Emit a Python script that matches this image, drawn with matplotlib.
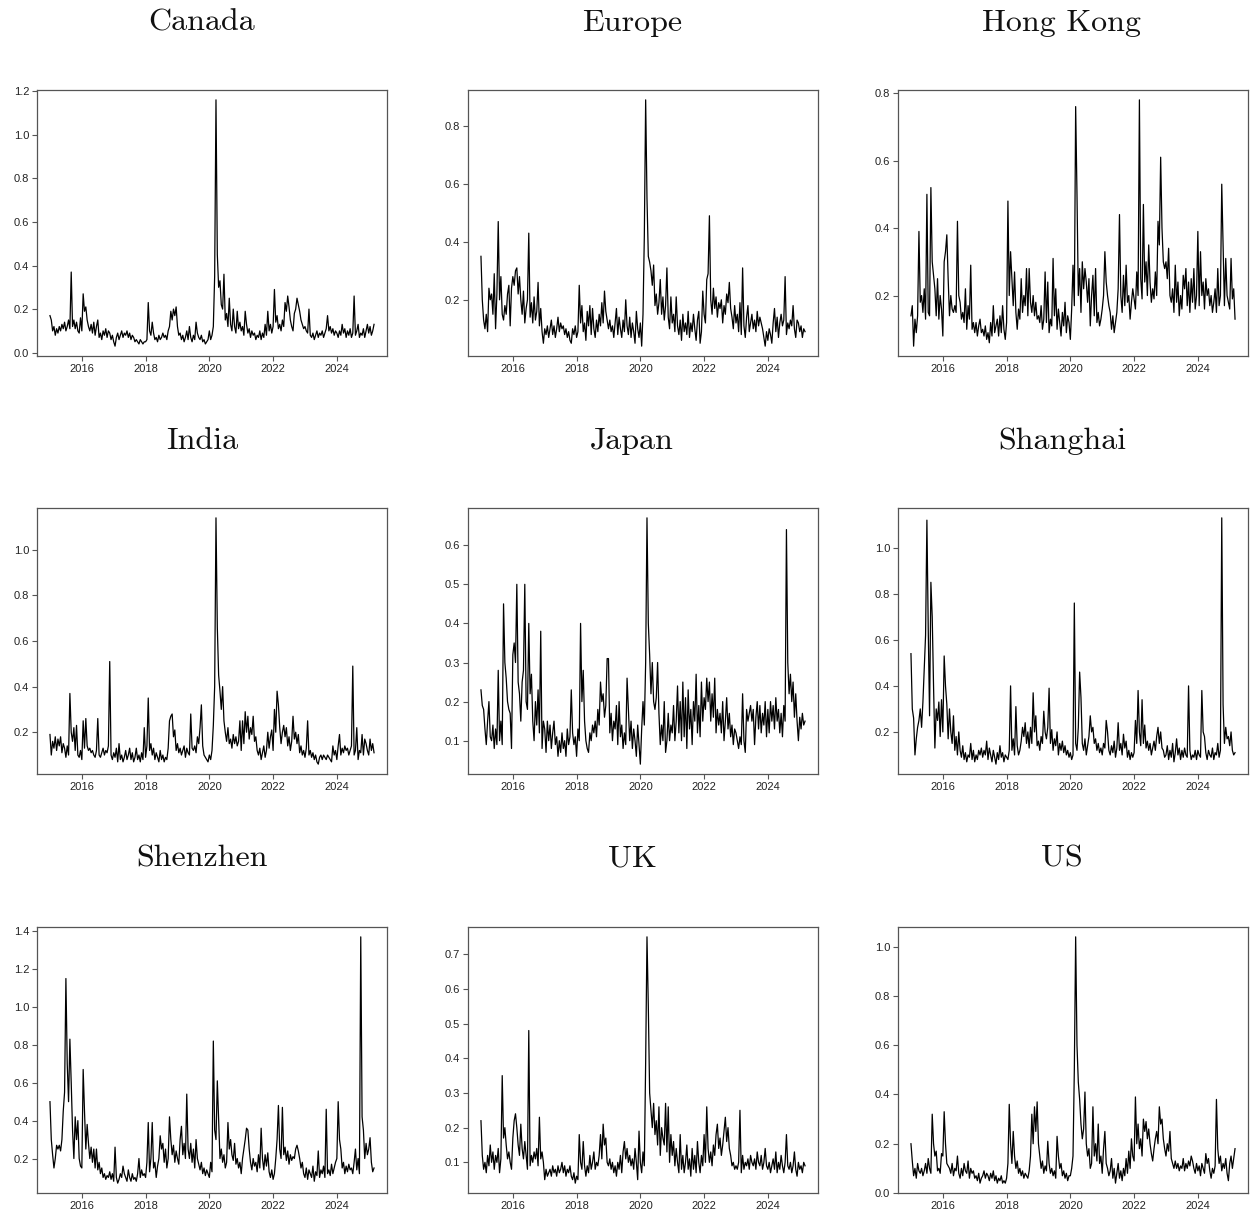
import numpy as np
import matplotlib
matplotlib.use("Agg")
import matplotlib.pyplot as plt

# semi-monthly readings, 2015-01 .. 2025-03 (24 per year, one line per year)
canada = [
    0.17, 0.15, 0.10, 0.12, 0.08, 0.11, 0.09, 0.12, 0.10, 0.13, 0.11, 0.14, 0.10, 0.12, 0.15, 0.11, 0.37, 0.12, 0.15, 0.11, 0.14, 0.10, 0.09, 0.16,
    0.10, 0.27, 0.19, 0.21, 0.15, 0.12, 0.10, 0.13, 0.09, 0.14, 0.08, 0.12, 0.15, 0.07, 0.09, 0.06, 0.10, 0.08, 0.11, 0.07, 0.10, 0.09, 0.06, 0.08,
    0.05, 0.03, 0.07, 0.09, 0.06, 0.08, 0.10, 0.07, 0.09, 0.08, 0.10, 0.07, 0.09, 0.06, 0.08, 0.07, 0.05, 0.06, 0.05, 0.04, 0.06, 0.05, 0.04, 0.05,
    0.05, 0.06, 0.23, 0.10, 0.08, 0.14, 0.09, 0.06, 0.07, 0.05, 0.08, 0.06, 0.07, 0.09, 0.07, 0.08, 0.06, 0.10, 0.12, 0.19, 0.15, 0.20, 0.17, 0.21,
    0.12, 0.08, 0.09, 0.06, 0.08, 0.05, 0.07, 0.10, 0.06, 0.12, 0.07, 0.05, 0.08, 0.06, 0.14, 0.09, 0.07, 0.06, 0.08, 0.05, 0.06, 0.04, 0.05, 0.06,
    0.10, 0.06, 0.08, 0.12, 0.35, 1.16, 0.45, 0.30, 0.33, 0.22, 0.20, 0.36, 0.15, 0.18, 0.12, 0.25, 0.13, 0.10, 0.20, 0.12, 0.09, 0.19, 0.11, 0.14,
    0.10, 0.12, 0.08, 0.19, 0.13, 0.09, 0.11, 0.07, 0.10, 0.08, 0.09, 0.06, 0.08, 0.07, 0.10, 0.06, 0.09, 0.07, 0.13, 0.08, 0.19, 0.10, 0.13, 0.09,
    0.12, 0.29, 0.14, 0.17, 0.11, 0.13, 0.10, 0.15, 0.12, 0.23, 0.19, 0.26, 0.21, 0.15, 0.12, 0.10, 0.18, 0.20, 0.25, 0.22, 0.19, 0.15, 0.13, 0.11,
    0.12, 0.10, 0.09, 0.20, 0.08, 0.07, 0.09, 0.06, 0.08, 0.10, 0.07, 0.09, 0.08, 0.10, 0.07, 0.09, 0.11, 0.17, 0.10, 0.12, 0.09, 0.11, 0.08, 0.10,
    0.09, 0.07, 0.10, 0.08, 0.13, 0.09, 0.11, 0.07, 0.10, 0.08, 0.11, 0.07, 0.09, 0.26, 0.08, 0.10, 0.13, 0.07, 0.09, 0.08, 0.11, 0.07, 0.10, 0.13,
    0.09, 0.12, 0.08, 0.10, 0.13,
]
europe = [
    0.35, 0.20, 0.13, 0.10, 0.15, 0.09, 0.24, 0.20, 0.22, 0.15, 0.29, 0.10, 0.22, 0.47, 0.20, 0.28, 0.15, 0.13, 0.18, 0.15, 0.22, 0.25, 0.11, 0.24,
    0.28, 0.25, 0.30, 0.31, 0.22, 0.28, 0.20, 0.15, 0.23, 0.12, 0.17, 0.20, 0.43, 0.14, 0.19, 0.12, 0.21, 0.13, 0.16, 0.26, 0.11, 0.17, 0.09, 0.05,
    0.10, 0.08, 0.11, 0.07, 0.10, 0.13, 0.08, 0.11, 0.07, 0.10, 0.14, 0.09, 0.12, 0.10, 0.11, 0.08, 0.10, 0.07, 0.09, 0.06, 0.05, 0.10, 0.08, 0.11,
    0.07, 0.09, 0.25, 0.12, 0.18, 0.09, 0.12, 0.06, 0.16, 0.11, 0.18, 0.08, 0.17, 0.10, 0.07, 0.13, 0.09, 0.15, 0.11, 0.19, 0.12, 0.23, 0.16, 0.13,
    0.10, 0.13, 0.09, 0.11, 0.07, 0.12, 0.17, 0.08, 0.14, 0.10, 0.07, 0.13, 0.09, 0.20, 0.11, 0.08, 0.14, 0.07, 0.12, 0.09, 0.05, 0.16, 0.10, 0.07,
    0.12, 0.04, 0.15, 0.42, 0.89, 0.55, 0.35, 0.33, 0.30, 0.25, 0.32, 0.18, 0.22, 0.15, 0.19, 0.27, 0.15, 0.21, 0.13, 0.18, 0.31, 0.14, 0.10, 0.21,
    0.12, 0.15, 0.09, 0.21, 0.11, 0.08, 0.13, 0.06, 0.15, 0.09, 0.12, 0.08, 0.16, 0.07, 0.12, 0.09, 0.15, 0.10, 0.06, 0.13, 0.16, 0.05, 0.09, 0.23,
    0.15, 0.12, 0.27, 0.29, 0.49, 0.20, 0.15, 0.24, 0.17, 0.21, 0.14, 0.19, 0.17, 0.20, 0.12, 0.18, 0.15, 0.22, 0.19, 0.26, 0.17, 0.14, 0.10, 0.18,
    0.12, 0.15, 0.09, 0.19, 0.08, 0.31, 0.11, 0.07, 0.14, 0.18, 0.09, 0.12, 0.15, 0.10, 0.13, 0.09, 0.16, 0.11, 0.14, 0.12, 0.10, 0.07, 0.04, 0.09,
    0.06, 0.10, 0.08, 0.05, 0.12, 0.17, 0.09, 0.14, 0.07, 0.12, 0.15, 0.11, 0.13, 0.28, 0.08, 0.12, 0.10, 0.13, 0.11, 0.18, 0.10, 0.07, 0.13, 0.12,
    0.09, 0.11, 0.07, 0.10, 0.09,
]
hong_kong = [
    0.14, 0.17, 0.05, 0.13, 0.09, 0.14, 0.39, 0.18, 0.20, 0.15, 0.22, 0.13, 0.50, 0.15, 0.14, 0.52, 0.30, 0.26, 0.22, 0.14, 0.25, 0.13, 0.20, 0.16,
    0.08, 0.30, 0.33, 0.38, 0.25, 0.14, 0.20, 0.16, 0.15, 0.17, 0.15, 0.42, 0.20, 0.18, 0.13, 0.15, 0.12, 0.22, 0.10, 0.17, 0.13, 0.29, 0.10, 0.12,
    0.09, 0.12, 0.08, 0.11, 0.13, 0.09, 0.10, 0.08, 0.11, 0.07, 0.09, 0.06, 0.12, 0.08, 0.17, 0.09, 0.11, 0.13, 0.08, 0.14, 0.09, 0.17, 0.10, 0.07,
    0.12, 0.48, 0.20, 0.33, 0.25, 0.17, 0.27, 0.15, 0.10, 0.16, 0.13, 0.25, 0.15, 0.20, 0.17, 0.28, 0.14, 0.28, 0.18, 0.15, 0.20, 0.14, 0.18, 0.13,
    0.14, 0.12, 0.17, 0.10, 0.13, 0.27, 0.12, 0.24, 0.09, 0.13, 0.11, 0.31, 0.14, 0.22, 0.10, 0.16, 0.12, 0.08, 0.15, 0.11, 0.18, 0.09, 0.14, 0.12,
    0.07, 0.16, 0.29, 0.17, 0.76, 0.50, 0.20, 0.28, 0.15, 0.30, 0.22, 0.28, 0.24, 0.18, 0.25, 0.11, 0.20, 0.26, 0.14, 0.28, 0.12, 0.15, 0.11, 0.13,
    0.16, 0.20, 0.33, 0.24, 0.20, 0.17, 0.15, 0.10, 0.14, 0.09, 0.12, 0.15, 0.22, 0.44, 0.20, 0.15, 0.26, 0.17, 0.29, 0.18, 0.20, 0.13, 0.18, 0.22,
    0.19, 0.16, 0.27, 0.20, 0.78, 0.25, 0.19, 0.47, 0.24, 0.30, 0.20, 0.35, 0.24, 0.18, 0.22, 0.19, 0.27, 0.20, 0.42, 0.35, 0.61, 0.40, 0.30, 0.28,
    0.30, 0.25, 0.34, 0.20, 0.18, 0.22, 0.15, 0.29, 0.18, 0.24, 0.14, 0.20, 0.16, 0.26, 0.22, 0.28, 0.17, 0.24, 0.15, 0.25, 0.18, 0.28, 0.16, 0.20,
    0.39, 0.17, 0.33, 0.20, 0.24, 0.16, 0.25, 0.20, 0.22, 0.17, 0.20, 0.15, 0.18, 0.22, 0.15, 0.28, 0.17, 0.20, 0.53, 0.35, 0.17, 0.31, 0.20, 0.18,
    0.16, 0.31, 0.19, 0.22, 0.13,
]
india = [
    0.19, 0.10, 0.16, 0.13, 0.18, 0.12, 0.17, 0.14, 0.18, 0.11, 0.15, 0.13, 0.09, 0.14, 0.10, 0.37, 0.20, 0.16, 0.22, 0.12, 0.23, 0.10, 0.09, 0.12,
    0.08, 0.25, 0.13, 0.26, 0.14, 0.12, 0.13, 0.11, 0.12, 0.10, 0.09, 0.12, 0.26, 0.10, 0.09, 0.11, 0.13, 0.10, 0.12, 0.11, 0.14, 0.51, 0.10, 0.08,
    0.11, 0.09, 0.13, 0.07, 0.15, 0.08, 0.10, 0.07, 0.09, 0.12, 0.08, 0.10, 0.13, 0.08, 0.11, 0.07, 0.09, 0.13, 0.08, 0.10, 0.07, 0.11, 0.08, 0.22,
    0.09, 0.14, 0.35, 0.12, 0.15, 0.10, 0.13, 0.08, 0.11, 0.09, 0.07, 0.12, 0.08, 0.10, 0.07, 0.09, 0.08, 0.13, 0.25, 0.27, 0.28, 0.18, 0.21, 0.12,
    0.15, 0.11, 0.13, 0.10, 0.12, 0.14, 0.09, 0.13, 0.11, 0.10, 0.28, 0.13, 0.12, 0.14, 0.11, 0.18, 0.15, 0.22, 0.32, 0.14, 0.10, 0.09, 0.08, 0.07,
    0.10, 0.08, 0.12, 0.23, 0.40, 1.14, 0.66, 0.45, 0.38, 0.30, 0.40, 0.25, 0.20, 0.16, 0.22, 0.15, 0.17, 0.13, 0.19, 0.15, 0.18, 0.14, 0.16, 0.25,
    0.12, 0.25, 0.15, 0.29, 0.20, 0.27, 0.17, 0.22, 0.19, 0.27, 0.16, 0.18, 0.12, 0.10, 0.13, 0.08, 0.11, 0.14, 0.09, 0.12, 0.20, 0.13, 0.18, 0.21,
    0.12, 0.30, 0.20, 0.38, 0.32, 0.22, 0.15, 0.20, 0.23, 0.18, 0.22, 0.14, 0.18, 0.12, 0.16, 0.27, 0.17, 0.20, 0.15, 0.19, 0.11, 0.14, 0.10, 0.12,
    0.09, 0.13, 0.25, 0.10, 0.12, 0.09, 0.11, 0.08, 0.10, 0.07, 0.06, 0.09, 0.10, 0.08, 0.10, 0.09, 0.08, 0.10, 0.09, 0.08, 0.07, 0.14, 0.10, 0.12,
    0.08, 0.14, 0.19, 0.10, 0.13, 0.11, 0.14, 0.12, 0.13, 0.10, 0.12, 0.14, 0.49, 0.10, 0.12, 0.22, 0.08, 0.12, 0.11, 0.19, 0.10, 0.17, 0.15, 0.12,
    0.10, 0.17, 0.12, 0.15, 0.11,
]
japan = [
    0.23, 0.19, 0.18, 0.13, 0.09, 0.15, 0.20, 0.11, 0.10, 0.14, 0.08, 0.13, 0.09, 0.28, 0.10, 0.15, 0.09, 0.45, 0.30, 0.26, 0.20, 0.18, 0.17, 0.08,
    0.32, 0.35, 0.30, 0.50, 0.25, 0.22, 0.15, 0.25, 0.28, 0.50, 0.20, 0.18, 0.40, 0.22, 0.27, 0.15, 0.10, 0.20, 0.14, 0.23, 0.12, 0.38, 0.08, 0.15,
    0.13, 0.07, 0.15, 0.10, 0.14, 0.08, 0.12, 0.15, 0.09, 0.11, 0.06, 0.10, 0.07, 0.12, 0.08, 0.10, 0.06, 0.13, 0.09, 0.11, 0.23, 0.12, 0.09, 0.11,
    0.06, 0.13, 0.10, 0.40, 0.20, 0.28, 0.15, 0.10, 0.08, 0.07, 0.12, 0.10, 0.14, 0.12, 0.15, 0.11, 0.18, 0.14, 0.25, 0.20, 0.22, 0.16, 0.19, 0.31,
    0.31, 0.12, 0.17, 0.10, 0.15, 0.13, 0.19, 0.09, 0.20, 0.11, 0.14, 0.08, 0.12, 0.09, 0.26, 0.18, 0.10, 0.15, 0.08, 0.13, 0.10, 0.06, 0.14, 0.09,
    0.04, 0.13, 0.20, 0.14, 0.30, 0.67, 0.40, 0.32, 0.22, 0.30, 0.20, 0.18, 0.21, 0.30, 0.17, 0.09, 0.14, 0.10, 0.20, 0.07, 0.10, 0.17, 0.10, 0.14,
    0.12, 0.19, 0.10, 0.15, 0.24, 0.12, 0.20, 0.10, 0.25, 0.11, 0.21, 0.08, 0.23, 0.13, 0.18, 0.09, 0.20, 0.15, 0.27, 0.12, 0.19, 0.11, 0.25, 0.15,
    0.21, 0.18, 0.26, 0.20, 0.25, 0.15, 0.22, 0.16, 0.26, 0.12, 0.18, 0.14, 0.17, 0.12, 0.20, 0.10, 0.15, 0.21, 0.13, 0.17, 0.11, 0.14, 0.09, 0.13,
    0.12, 0.10, 0.08, 0.11, 0.09, 0.22, 0.10, 0.07, 0.18, 0.15, 0.17, 0.19, 0.15, 0.18, 0.09, 0.16, 0.20, 0.13, 0.19, 0.12, 0.17, 0.14, 0.20, 0.11,
    0.18, 0.12, 0.20, 0.15, 0.19, 0.13, 0.21, 0.15, 0.18, 0.12, 0.17, 0.11, 0.19, 0.15, 0.64, 0.30, 0.22, 0.27, 0.20, 0.25, 0.16, 0.22, 0.15, 0.10,
    0.16, 0.13, 0.17, 0.14, 0.15,
]
shanghai = [
    0.54, 0.30, 0.26, 0.10, 0.17, 0.22, 0.25, 0.30, 0.22, 0.33, 0.48, 0.62, 1.12, 0.65, 0.27, 0.85, 0.70, 0.40, 0.13, 0.30, 0.25, 0.33, 0.18, 0.34,
    0.20, 0.53, 0.40, 0.32, 0.17, 0.30, 0.20, 0.15, 0.27, 0.12, 0.18, 0.10, 0.20, 0.12, 0.09, 0.14, 0.08, 0.11, 0.07, 0.10, 0.09, 0.15, 0.08, 0.12,
    0.07, 0.10, 0.08, 0.12, 0.10, 0.13, 0.09, 0.12, 0.10, 0.16, 0.08, 0.13, 0.10, 0.07, 0.12, 0.09, 0.06, 0.11, 0.08, 0.14, 0.09, 0.11, 0.07, 0.10,
    0.09, 0.08, 0.12, 0.40, 0.12, 0.17, 0.10, 0.31, 0.14, 0.10, 0.12, 0.16, 0.22, 0.18, 0.24, 0.15, 0.20, 0.13, 0.22, 0.15, 0.37, 0.20, 0.27, 0.14,
    0.16, 0.12, 0.18, 0.15, 0.29, 0.20, 0.17, 0.22, 0.39, 0.15, 0.21, 0.12, 0.17, 0.14, 0.20, 0.10, 0.15, 0.12, 0.16, 0.11, 0.14, 0.10, 0.12, 0.09,
    0.11, 0.08, 0.10, 0.76, 0.15, 0.12, 0.22, 0.46, 0.35, 0.15, 0.12, 0.17, 0.10, 0.14, 0.18, 0.27, 0.20, 0.22, 0.15, 0.17, 0.12, 0.15, 0.11, 0.13,
    0.10, 0.15, 0.13, 0.25, 0.20, 0.12, 0.10, 0.14, 0.11, 0.16, 0.09, 0.13, 0.24, 0.12, 0.15, 0.10, 0.19, 0.13, 0.16, 0.09, 0.12, 0.08, 0.11, 0.09,
    0.11, 0.25, 0.15, 0.38, 0.20, 0.14, 0.34, 0.15, 0.23, 0.13, 0.16, 0.12, 0.15, 0.10, 0.13, 0.16, 0.12, 0.18, 0.22, 0.15, 0.20, 0.13, 0.12, 0.09,
    0.10, 0.14, 0.08, 0.12, 0.09, 0.15, 0.07, 0.11, 0.17, 0.10, 0.13, 0.08, 0.12, 0.09, 0.13, 0.10, 0.09, 0.40, 0.12, 0.08, 0.10, 0.09, 0.12, 0.08,
    0.12, 0.10, 0.09, 0.38, 0.20, 0.18, 0.11, 0.08, 0.12, 0.10, 0.09, 0.13, 0.08, 0.11, 0.10, 0.15, 0.09, 0.12, 1.13, 0.32, 0.15, 0.22, 0.17, 0.18,
    0.14, 0.20, 0.12, 0.10, 0.11,
]
shenzhen = [
    0.50, 0.30, 0.22, 0.15, 0.20, 0.27, 0.25, 0.27, 0.24, 0.30, 0.45, 0.55, 1.15, 0.70, 0.50, 0.83, 0.60, 0.35, 0.20, 0.42, 0.30, 0.40, 0.20, 0.16,
    0.15, 0.67, 0.45, 0.25, 0.38, 0.28, 0.20, 0.26, 0.18, 0.25, 0.15, 0.25, 0.14, 0.18, 0.12, 0.15, 0.10, 0.12, 0.09, 0.11, 0.10, 0.13, 0.09, 0.12,
    0.08, 0.26, 0.10, 0.07, 0.09, 0.12, 0.10, 0.16, 0.12, 0.10, 0.08, 0.14, 0.10, 0.08, 0.12, 0.09, 0.10, 0.08, 0.12, 0.20, 0.10, 0.14, 0.11, 0.12,
    0.10, 0.18, 0.39, 0.13, 0.20, 0.39, 0.15, 0.18, 0.10, 0.16, 0.20, 0.32, 0.25, 0.28, 0.18, 0.25, 0.15, 0.20, 0.42, 0.30, 0.22, 0.27, 0.18, 0.24,
    0.20, 0.17, 0.30, 0.37, 0.22, 0.28, 0.20, 0.54, 0.25, 0.20, 0.28, 0.18, 0.25, 0.15, 0.30, 0.20, 0.17, 0.14, 0.18, 0.12, 0.15, 0.11, 0.14, 0.12,
    0.10, 0.18, 0.13, 0.82, 0.35, 0.30, 0.61, 0.40, 0.20, 0.25, 0.18, 0.22, 0.15, 0.18, 0.39, 0.25, 0.30, 0.22, 0.19, 0.28, 0.17, 0.20, 0.15, 0.18,
    0.12, 0.20, 0.25, 0.30, 0.36, 0.35, 0.25, 0.18, 0.14, 0.20, 0.16, 0.18, 0.13, 0.22, 0.15, 0.36, 0.20, 0.14, 0.22, 0.16, 0.23, 0.13, 0.10, 0.14,
    0.09, 0.12, 0.20, 0.30, 0.48, 0.25, 0.20, 0.47, 0.22, 0.26, 0.19, 0.24, 0.17, 0.22, 0.19, 0.21, 0.20, 0.25, 0.27, 0.24, 0.20, 0.15, 0.18, 0.12,
    0.10, 0.15, 0.09, 0.14, 0.12, 0.10, 0.16, 0.08, 0.13, 0.11, 0.24, 0.10, 0.14, 0.12, 0.16, 0.10, 0.46, 0.12, 0.14, 0.11, 0.17, 0.12, 0.15, 0.18,
    0.20, 0.50, 0.30, 0.25, 0.15, 0.18, 0.12, 0.16, 0.13, 0.17, 0.14, 0.15, 0.12, 0.18, 0.25, 0.14, 0.20, 0.12, 1.37, 0.42, 0.35, 0.20, 0.28, 0.22,
    0.25, 0.31, 0.18, 0.13, 0.15,
]
uk = [
    0.22, 0.12, 0.08, 0.10, 0.07, 0.12, 0.09, 0.15, 0.10, 0.13, 0.08, 0.12, 0.10, 0.14, 0.07, 0.11, 0.35, 0.17, 0.20, 0.15, 0.11, 0.13, 0.10, 0.08,
    0.17, 0.22, 0.24, 0.20, 0.15, 0.12, 0.21, 0.14, 0.11, 0.16, 0.12, 0.08, 0.48, 0.09, 0.12, 0.10, 0.13, 0.11, 0.14, 0.09, 0.23, 0.11, 0.13, 0.10,
    0.05, 0.08, 0.06, 0.07, 0.08, 0.06, 0.09, 0.07, 0.08, 0.06, 0.09, 0.07, 0.08, 0.10, 0.07, 0.09, 0.06, 0.08, 0.07, 0.09, 0.06, 0.05, 0.07, 0.04,
    0.06, 0.05, 0.18, 0.10, 0.08, 0.16, 0.09, 0.06, 0.09, 0.07, 0.12, 0.08, 0.10, 0.13, 0.08, 0.10, 0.09, 0.12, 0.18, 0.11, 0.21, 0.15, 0.17, 0.10,
    0.09, 0.11, 0.08, 0.10, 0.07, 0.09, 0.06, 0.10, 0.08, 0.12, 0.07, 0.13, 0.16, 0.11, 0.14, 0.10, 0.12, 0.09, 0.11, 0.08, 0.14, 0.10, 0.05, 0.19,
    0.10, 0.07, 0.13, 0.09, 0.39, 0.75, 0.55, 0.30, 0.25, 0.20, 0.27, 0.18, 0.22, 0.15, 0.26, 0.12, 0.20, 0.17, 0.15, 0.27, 0.13, 0.26, 0.10, 0.18,
    0.12, 0.16, 0.09, 0.14, 0.10, 0.07, 0.18, 0.08, 0.12, 0.07, 0.10, 0.15, 0.08, 0.11, 0.06, 0.14, 0.08, 0.12, 0.07, 0.16, 0.10, 0.07, 0.12, 0.09,
    0.18, 0.10, 0.26, 0.14, 0.10, 0.13, 0.09, 0.15, 0.12, 0.18, 0.21, 0.14, 0.17, 0.12, 0.15, 0.19, 0.23, 0.16, 0.20, 0.14, 0.12, 0.09, 0.10, 0.08,
    0.09, 0.08, 0.10, 0.25, 0.07, 0.12, 0.08, 0.10, 0.09, 0.11, 0.08, 0.12, 0.10, 0.09, 0.11, 0.08, 0.13, 0.10, 0.09, 0.12, 0.08, 0.10, 0.14, 0.09,
    0.08, 0.10, 0.07, 0.09, 0.11, 0.08, 0.13, 0.07, 0.10, 0.08, 0.12, 0.09, 0.07, 0.10, 0.18, 0.09, 0.08, 0.10, 0.07, 0.09, 0.13, 0.08, 0.06, 0.10,
    0.08, 0.09, 0.07, 0.10, 0.09,
]
us = [
    0.20, 0.13, 0.07, 0.10, 0.06, 0.12, 0.09, 0.08, 0.10, 0.07, 0.09, 0.12, 0.08, 0.14, 0.10, 0.08, 0.32, 0.20, 0.15, 0.17, 0.09, 0.10, 0.08, 0.16,
    0.15, 0.33, 0.20, 0.12, 0.11, 0.10, 0.08, 0.12, 0.07, 0.10, 0.09, 0.15, 0.08, 0.06, 0.10, 0.07, 0.12, 0.09, 0.08, 0.13, 0.06, 0.10, 0.08, 0.09,
    0.06, 0.07, 0.05, 0.08, 0.04, 0.06, 0.07, 0.09, 0.06, 0.08, 0.07, 0.05, 0.08, 0.06, 0.09, 0.05, 0.07, 0.04, 0.06, 0.05, 0.07, 0.04, 0.05, 0.04,
    0.06, 0.12, 0.36, 0.20, 0.12, 0.25, 0.15, 0.10, 0.13, 0.08, 0.10, 0.07, 0.09, 0.06, 0.08, 0.07, 0.06, 0.09, 0.15, 0.32, 0.20, 0.35, 0.25, 0.37,
    0.20, 0.15, 0.10, 0.13, 0.08, 0.11, 0.09, 0.21, 0.12, 0.08, 0.10, 0.07, 0.09, 0.06, 0.23, 0.15, 0.10, 0.12, 0.07, 0.09, 0.06, 0.08, 0.05, 0.07,
    0.07, 0.10, 0.15, 0.50, 1.04, 0.60, 0.45, 0.38, 0.28, 0.22, 0.26, 0.41, 0.20, 0.15, 0.18, 0.10, 0.12, 0.35, 0.15, 0.20, 0.13, 0.28, 0.12, 0.15,
    0.08, 0.18, 0.25, 0.12, 0.10, 0.07, 0.09, 0.14, 0.06, 0.10, 0.04, 0.08, 0.12, 0.06, 0.09, 0.05, 0.10, 0.07, 0.14, 0.08, 0.17, 0.10, 0.22, 0.15,
    0.13, 0.39, 0.20, 0.28, 0.18, 0.22, 0.15, 0.30, 0.25, 0.29, 0.22, 0.26, 0.20, 0.16, 0.13, 0.18, 0.22, 0.25, 0.20, 0.35, 0.28, 0.30, 0.22, 0.18,
    0.15, 0.20, 0.17, 0.25, 0.14, 0.12, 0.10, 0.13, 0.10, 0.12, 0.09, 0.11, 0.10, 0.14, 0.09, 0.12, 0.10, 0.13, 0.11, 0.15, 0.13, 0.10, 0.08, 0.12,
    0.09, 0.11, 0.07, 0.12, 0.10, 0.08, 0.16, 0.12, 0.14, 0.09, 0.06, 0.10, 0.08, 0.11, 0.38, 0.18, 0.12, 0.15, 0.09, 0.12, 0.10, 0.14, 0.08, 0.05,
    0.12, 0.15, 0.10, 0.14, 0.18,
]

titles = ["Canada", "Europe", "Hong Kong", "India", "Japan", "Shanghai", "Shenzhen", "UK", "US"]
series = [canada, europe, hong_kong, india, japan, shanghai, shenzhen, uk, us]
yticks = [
    [0.0, 0.2, 0.4, 0.6, 0.8, 1.0, 1.2],
    [0.2, 0.4, 0.6, 0.8],
    [0.2, 0.4, 0.6, 0.8],
    [0.2, 0.4, 0.6, 0.8, 1.0],
    [0.1, 0.2, 0.3, 0.4, 0.5, 0.6],
    [0.2, 0.4, 0.6, 0.8, 1.0],
    [0.2, 0.4, 0.6, 0.8, 1.0, 1.2, 1.4],
    [0.1, 0.2, 0.3, 0.4, 0.5, 0.6, 0.7],
    [0.0, 0.2, 0.4, 0.6, 0.8, 1.0],
]
xticks = [2016, 2018, 2020, 2022, 2024]
start_year = 2015
per_year = 24

W, H = 1259, 1221
fig = plt.figure(figsize=(W / 100, H / 100), dpi=100)
fig.patch.set_facecolor("white")

col_left = [37, 468, 898]
col_width = 350
row_top = [90, 508, 927]
row_height = 266
title_x = [202, 632, 1062]
title_y = [23, 441, 859]

frame_col = "#555555"

for i, (name, vals, yt) in enumerate(zip(titles, series, yticks)):
    r, c = divmod(i, 3)
    ax = fig.add_axes([col_left[c] / W, 1 - (row_top[r] + row_height) / H,
                       col_width / W, row_height / H])
    y = np.array(vals)
    x = start_year + np.arange(len(y)) / per_year
    ax.plot(x, y, color="black", lw=0.9)

    # R-style 4% padding
    xpad = 0.04 * (x[-1] - x[0])
    ax.set_xlim(x[0] - xpad, x[-1] + xpad)
    ypad = 0.04 * (y.max() - y.min())
    ax.set_ylim(y.min() - ypad, y.max() + ypad)

    ax.set_xticks(xticks)
    ax.set_xticklabels([str(t) for t in xticks])
    ax.set_yticks(yt)
    ax.set_yticklabels([f"{t:.1f}" for t in yt])
    ax.tick_params(direction="out", length=3.5, width=0.8, colors=frame_col,
                   labelcolor="#222222", labelsize=8, pad=2)
    for lab in ax.get_xticklabels() + ax.get_yticklabels():
        lab.set_family("Liberation Sans")
    for sp in ax.spines.values():
        sp.set_color(frame_col)
        sp.set_linewidth(0.9)

    fig.text(title_x[c] / W, 1 - title_y[r] / H, name, ha="center", va="center",
             fontsize=23, family="cmr10", color="#111111")

fig.savefig("out.png", dpi=100, facecolor="white")
